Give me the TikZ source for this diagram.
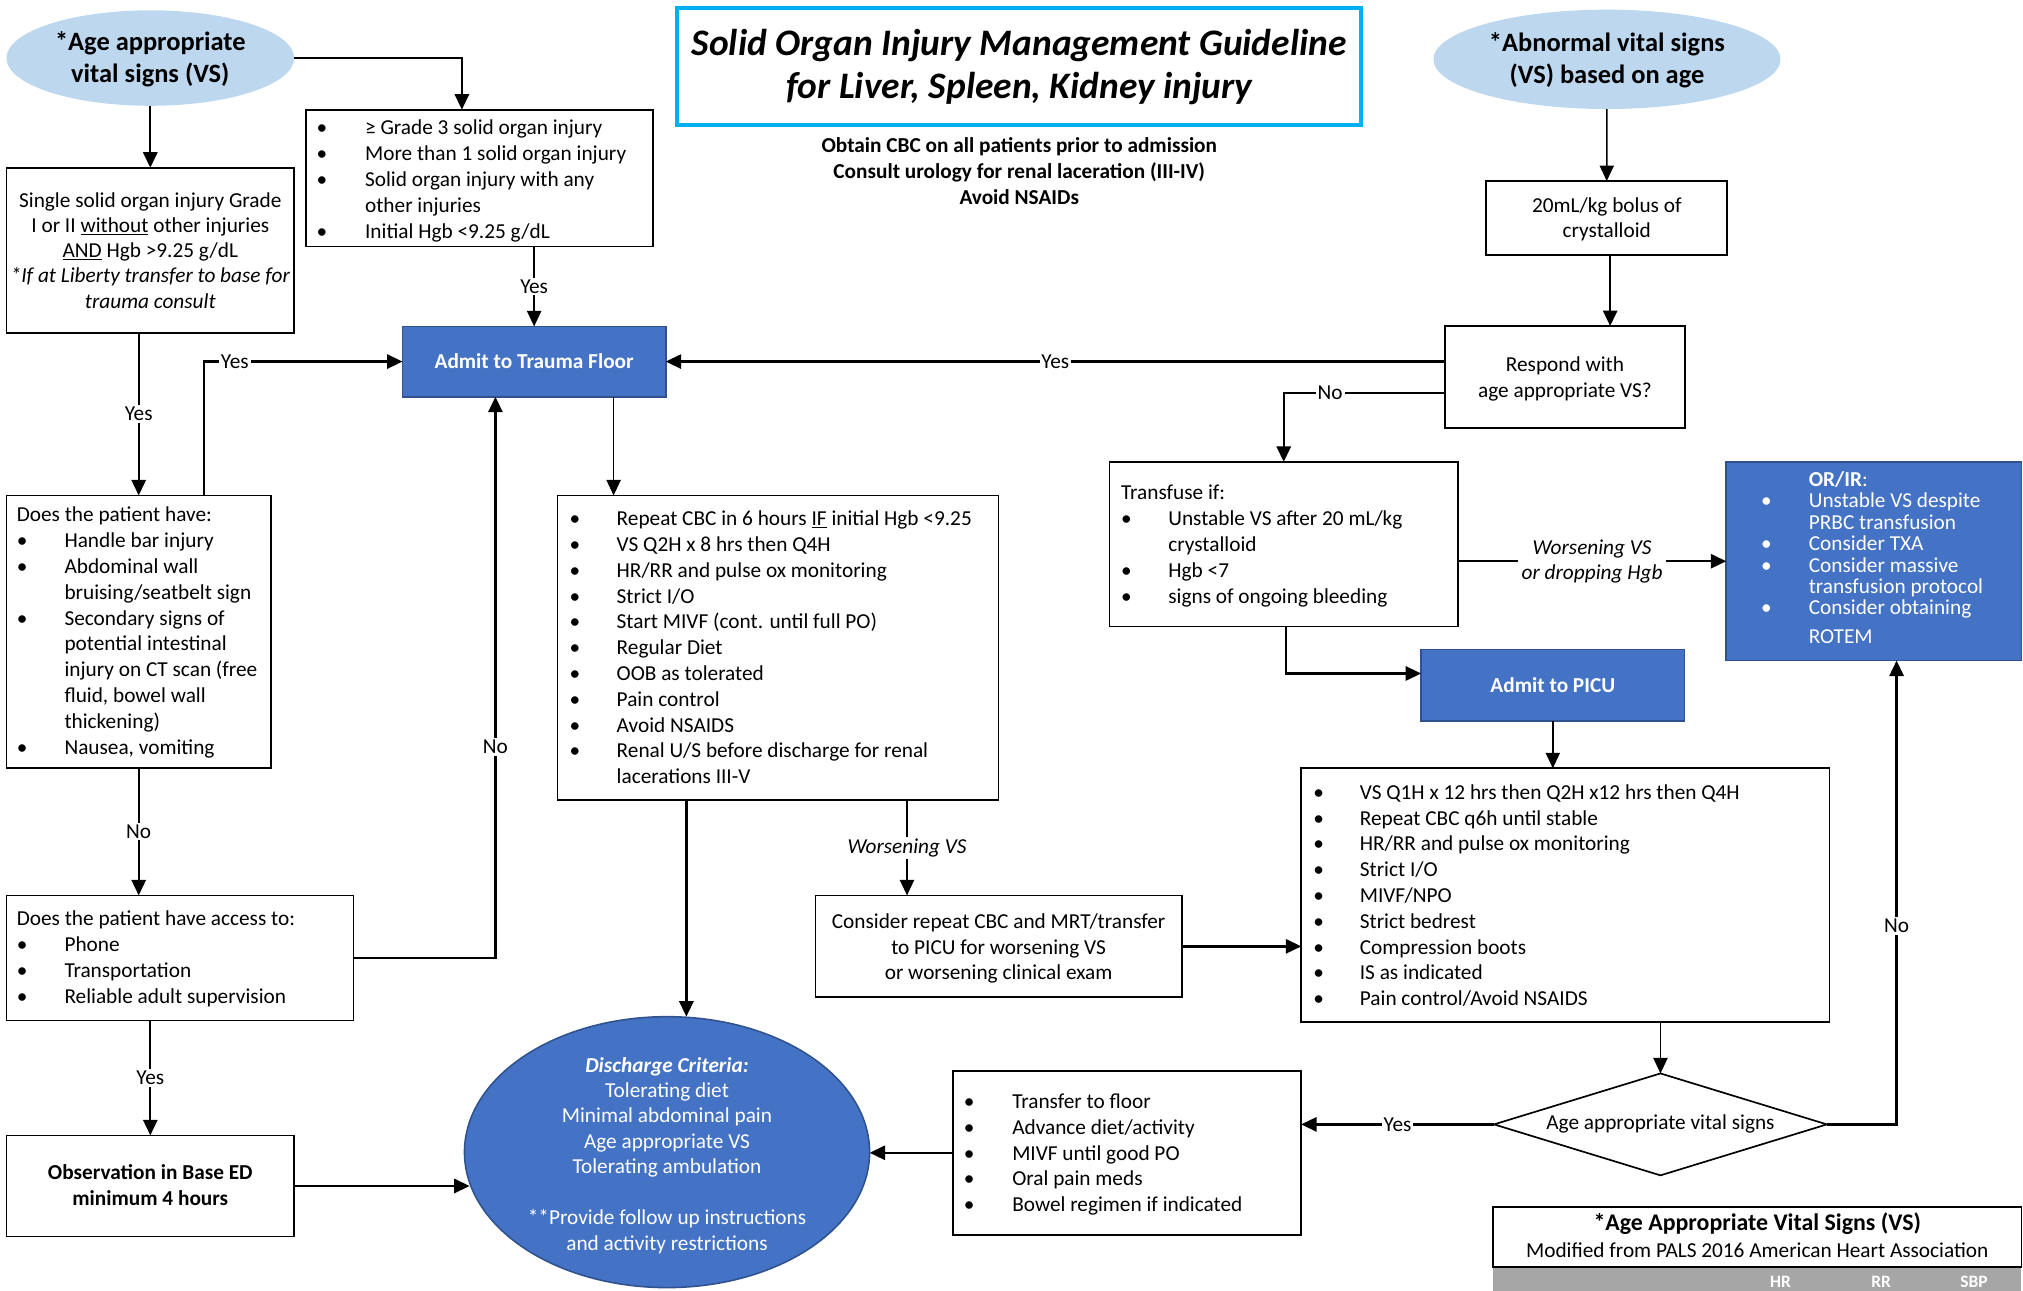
\documentclass[tikz,border=0pt]{standalone}
\usepackage{fontspec}
\setmainfont{Carlito}
\usetikzlibrary{shapes.geometric,arrows.meta,calc}
\definecolor{lblue}{HTML}{BDD7EE}
\definecolor{mblue}{HTML}{4472C4}
\definecolor{dblue}{HTML}{2F528F}
\definecolor{cyanb}{HTML}{00B0F0}
\definecolor{gband}{HTML}{A6A6A6}
\newlength\bw
\newcommand\bi{\makebox[\bw][l]{\textbullet}}
\newcommand\ci{\hspace*{\bw}}
\newcommand\tb[2]{\begin{tabular}[t]{@{}#1@{}}#2\end{tabular}}
\newcommand\fs{\fontsize{16.5}{20}\selectfont}
\newcommand\rbox[6][box]{%
  \pgfmathsetmacro\myrw{#5-#3}\pgfmathsetmacro\myrh{#6-#4}%
  \node[#1, minimum width=\myrw pt, minimum height=\myrh pt] (#2) at ({(#3+#5)/2},{(#4+#6)/2}) {};}
\begin{document}
\begin{tikzpicture}[x=1pt,y=-1pt,
  box/.style={draw=black,line width=1.3pt,fill=white,rectangle,inner sep=0pt,outer sep=0pt},
  bbox/.style={draw=dblue,line width=1.3pt,fill=mblue,rectangle,inner sep=0pt,outer sep=0pt},
  txt/.style={inner sep=0pt,outer sep=0pt,font=\fs},
  wtxt/.style={txt,text=white},
  arr/.style={line width=1.8pt,-{Triangle[length=12pt,width=11pt]}},
  tarr/.style={arr,line width=1.2pt},
  lbl/.style={fill=white,inner sep=1.5pt,font=\fs},
]
\useasboundingbox (0,0) rectangle (1568,1000);

% ---- title and notes
\rbox[draw=cyanb,line width=3pt,fill=white,rectangle,inner sep=0pt,outer sep=0pt]{title}{525}{6}{1055}{97}
\node[txt,font=\fontsize{29}{34}\selectfont\bfseries\itshape,align=center] (title-t) at (790,52)
  {Solid Organ Injury Management Guideline\\for Liver, Spleen, Kidney injury};
\node[txt,font=\fs\bfseries,anchor=base] (sub) at (790,118.5)
  {\tb{c}{Obtain CBC on all patients prior to admission\\Consult urology for renal laceration (III-IV)\\Avoid NSAIDs}};

% ---- left column
\node[ellipse,fill=lblue,minimum width=223pt,minimum height=74pt,inner sep=0pt,outer sep=0pt] (e1) at (116.5,45) {};
\node[txt,font=\fontsize{20.5}{25}\selectfont\bfseries,align=center] (e1-t) at (116.5,46) {*Age appropriate\\vital signs (VS)};

\rbox{grade}{237}{85}{506}{191}
\node[txt,anchor=base west] (grade-t) at (245.5,104.5) {\setlength\bw{37.5pt}\tb{l}{%
  \bi ≥ Grade 3 solid organ injury\\
  \bi More than 1 solid organ injury\\
  \bi Solid organ injury with any\\
  \ci other injuries\\
  \bi Initial Hgb <9.25 g/dL}};

\rbox{single}{5}{130}{228}{258}
\node[txt,anchor=base] (single-t) at (116.5,160.5) {\fontsize{16.5}{19.6}\selectfont\tb{c}{%
  Single solid organ injury Grade\\
  I or II \underline{without} other injuries\\
  \underline{AND} Hgb >9.25 g/dL\\
  \itshape *If at Liberty transfer to base for\\
  \itshape trauma consult}};

\rbox[bbox]{admit}{312}{253}{516}{307.5}
\node[wtxt,font=\fs\bfseries] (admit-t) at (admit.center) {Admit to Trauma Floor};

\rbox{does}{5}{384}{210}{595}
\node[txt,anchor=base west] (does-t) at (13,404.5) {\setlength\bw{37pt}\tb{l}{%
  Does the patient have:\\
  \bi Handle bar injury\\
  \bi Abdominal wall\\
  \ci bruising/seatbelt sign\\
  \bi Secondary signs of\\
  \ci potential intestinal\\
  \ci injury on CT scan (free\\
  \ci fluid, bowel wall\\
  \ci thickening)\\
  \bi Nausea, vomiting}};

\rbox{access}{5}{694}{274}{791}
\node[txt,anchor=base west] (access-t) at (13,717.5) {\setlength\bw{37pt}\tb{l}{%
  Does the patient have access to:\\
  \bi Phone\\
  \bi Transportation\\
  \bi Reliable adult supervision}};

\rbox{obs}{5}{880}{228}{958.5}
\node[txt,font=\fs\bfseries,anchor=base] (obs-t) at (116.5,914.5) {\tb{c}{Observation in Base ED\\minimum 4 hours}};

% ---- middle column
\rbox{list}{432}{384}{774}{620}
\node[txt,anchor=base west] (list-t) at (441.5,407.5) {\setlength\bw{36.5pt}\tb{l}{%
  \bi Repeat CBC in 6 hours \underline{IF} initial Hgb <9.25\\
  \bi VS Q2H x 8 hrs then Q4H\\
  \bi HR/RR and pulse ox monitoring\\
  \bi Strict I/O\\
  \bi Start MIVF (cont. until full PO)\\
  \bi Regular Diet\\
  \bi OOB as tolerated\\
  \bi Pain control\\
  \bi Avoid NSAIDS\\
  \bi Renal U/S before discharge for renal\\
  \ci lacerations III-V}};

\rbox{consider}{632}{694}{916}{773}
\node[txt,anchor=base] (consider-t) at (774,719.5) {\tb{c}{%
  Consider repeat CBC and MRT/transfer\\
  to PICU for worsening VS\\
  or worsening clinical exam}};

\node[ellipse,draw=dblue,line width=1.2pt,fill=mblue,minimum width=314pt,minimum height=210pt,inner sep=0pt,outer sep=0pt] (dis) at (517,893) {};
\node[wtxt,anchor=base] (dis-t) at (517,831) {\fontsize{16.5}{19.7}\selectfont\tb{c}{%
  \textbf{\textit{Discharge Criteria:}}\\
  Tolerating diet\\
  Minimal abdominal pain\\
  Age appropriate VS\\
  Tolerating ambulation\\
  \relax\\
  \relax **Provide follow up instructions\\
  and activity restrictions}};

% ---- right column
\node[ellipse,fill=lblue,minimum width=269pt,minimum height=77pt,inner sep=0pt,outer sep=0pt] (e2) at (1245.5,46) {};
\node[txt,font=\fontsize{20.5}{25}\selectfont\bfseries,align=center] (e2-t) at (1245.5,47) {*Abnormal vital signs\\(VS) based on age};

\rbox{bolus}{1152}{140.3}{1338.7}{197.7}
\node[txt,anchor=base] (bolus-t) at (1245.4,164.5) {\fontsize{16.5}{19.5}\selectfont\tb{c}{20mL/kg bolus of\\crystalloid}};

\rbox{respond}{1120}{252.7}{1306}{331.5}
\node[txt,anchor=base] (respond-t) at (1213,288) {\tb{c}{Respond with\\age appropriate VS?}};

\rbox{transfuse}{860}{358}{1130}{485.5}
\node[txt,anchor=base west] (transfuse-t) at (869,387.5) {\setlength\bw{36.6pt}\tb{l}{%
  Transfuse if:\\
  \bi Unstable VS after 20 mL/kg\\
  \ci crystalloid\\
  \bi Hgb <7\\
  \bi signs of ongoing bleeding}};

\rbox[bbox]{orir}{1338}{358}{1566.7}{512}
\node[wtxt,anchor=base west] (orir-t) at (1365,377) {\setlength\bw{37pt}\fontsize{16.5}{16.6}\selectfont\tb{l}{%
  \ci\textbf{OR/IR}:\\
  \bi Unstable VS despite\\
  \ci PRBC transfusion\\
  \bi Consider TXA\\
  \bi Consider massive\\
  \ci transfusion protocol\\
  \bi Consider obtaining\\[5.9pt]
  \ci ROTEM}};

\rbox[bbox]{picu}{1101.5}{503.5}{1305.6}{559}
\node[wtxt,font=\fs\bfseries] (picu-t) at (picu.center) {Admit to PICU};

\rbox{picul}{1008.6}{595.5}{1418}{792}
\node[txt,anchor=base west] (picul-t) at (1018,619.5) {\setlength\bw{36pt}\tb{l}{%
  \bi VS Q1H x 12 hrs then Q2H x12 hrs then Q4H\\
  \bi Repeat CBC q6h until stable\\
  \bi HR/RR and pulse ox monitoring\\
  \bi Strict I/O\\
  \bi MIVF/NPO\\
  \bi Strict bedrest\\
  \bi Compression boots\\
  \bi IS as indicated\\
  \bi Pain control/Avoid NSAIDS}};

\node[diamond,draw=black,line width=1.3pt,fill=white,minimum width=258pt,minimum height=79pt,inner sep=0pt,outer sep=0pt] (dia) at (1287,871.5) {};
\node[txt] (dia-t) at (dia.center) {Age appropriate vital signs};

\rbox{transfer}{738.5}{830}{1008.5}{957}
\node[txt,anchor=base west] (transfer-t) at (747,859.5) {\setlength\bw{37.6pt}\fontsize{16.5}{19.8}\selectfont\tb{l}{%
  \bi Transfer to floor\\
  \bi Advance diet/activity\\
  \bi MIVF until good PO\\
  \bi Oral pain meds\\
  \bi Bowel regimen if indicated}};

% ---- vital signs table (bottom edge of the page)
\rbox{vstab}{1157}{935.7}{1566.7}{982}
\node[txt,font=\fontsize{18.5}{22}\selectfont\bfseries,anchor=base] (vstab-t) at (1362,954) {*Age Appropriate Vital Signs (VS)};
\node[txt,anchor=base] (vstab-s) at (1362,974.5) {Modified from PALS 2016 American Heart Association};
\begin{scope}
  \clip (0,0) rectangle (1568,1000);
  \rbox[draw=none,fill=gband,rectangle,inner sep=0pt,outer sep=0pt]{band}{1157}{982.6}{1566.7}{1020}
  \node[wtxt,font=\fontsize{13.5}{16}\selectfont\bfseries,anchor=base] (hr) at (1380,998) {HR};
  \node[wtxt,font=\fontsize{13.5}{16}\selectfont\bfseries,anchor=base] (rr) at (1458,998) {RR};
  \node[wtxt,font=\fontsize{13.5}{16}\selectfont\bfseries,anchor=base] (sbp) at (1530,998) {SBP};
\end{scope}

% ---- connectors
\draw[arr] (e1.south) -- (single.north);
\coordinate (gt) at ([xshift=121pt]grade.north west);
\draw[arr] (e1.east) -| (gt);
\draw[tarr] (admit.north |- grade.south) -- node[lbl]{Yes} (admit.north);
\draw[arr] (does.north |- single.south) -- node[lbl]{Yes} (does.north);
\coordinate (dt) at ([xshift=153pt]does.north west);
\draw[arr] (dt) |- node[lbl,pos=0.578]{Yes} (admit.west);
\draw[arr] (does.south) -- node[lbl]{No} (does.south |- access.north);
\coordinate (ab) at ([xshift=72pt]admit.south west);
\draw[arr] (access.east) -| node[lbl,pos=0.688]{No} (ab);
\draw[arr] (obs.north |- access.south) -- node[lbl]{Yes} (obs.north);
\draw[arr] (obs.east) -- ($(obs.east -| dis.west)+(4,0)$);
\coordinate (al) at ([xshift=163.6pt]admit.south west);
\draw[tarr] (al) -- (al |- list.north);
\coordinate (ld) at ([xshift=100pt]list.south west);
\draw[arr] (ld) -- (ld |- dis.north);
\coordinate (lc) at ([xshift=271pt]list.south west);
\draw[tarr] (lc) -- node[lbl,font=\fs\itshape]{Worsening VS} (lc |- consider.north);
\draw[arr] (consider.east) -- (consider.east -| picul.west);
\draw[tarr] (e2.south) -- (bolus.north);
\coordinate (br) at ([xshift=96pt]bolus.south west);
\draw[arr] (br) -- (br |- respond.north);
\draw[arr] (respond.west |- admit.east) -- node[lbl]{Yes} (admit.east);
\coordinate (rn) at ([yshift=-52pt]respond.north west);
\coordinate (tn) at ([xshift=135pt]transfuse.north west);
\draw[arr] (rn) -| node[lbl,pos=0.356]{No} (tn);
\coordinate (tp) at ([xshift=136.6pt]transfuse.south west);
\coordinate (pp) at ([yshift=-18.5pt]picu.north west);
\draw[arr] (tp) |- (pp);
\draw[arr] (orir.west -| transfuse.east) -- node[lbl,font=\fontsize{16.5}{19.5}\selectfont\itshape,align=center,inner xsep=3pt]{Worsening VS\\or dropping Hgb} (orir.west);
\draw[tarr] (picu.south) -- (picu.south |- picul.north);
\draw[tarr] (dia.north |- picul.south) -- (dia.north);
\draw[arr] (dia.west) -- node[lbl]{Yes} (dia.west -| transfer.east);
\coordinate (on) at ([xshift=132pt]orir.south west);
\draw[arr] (dia.east) -| node[lbl,pos=0.714]{No} (on);
\draw[arr] (transfer.west) -- (transfer.west -| dis.east);
\end{tikzpicture}
\end{document}
